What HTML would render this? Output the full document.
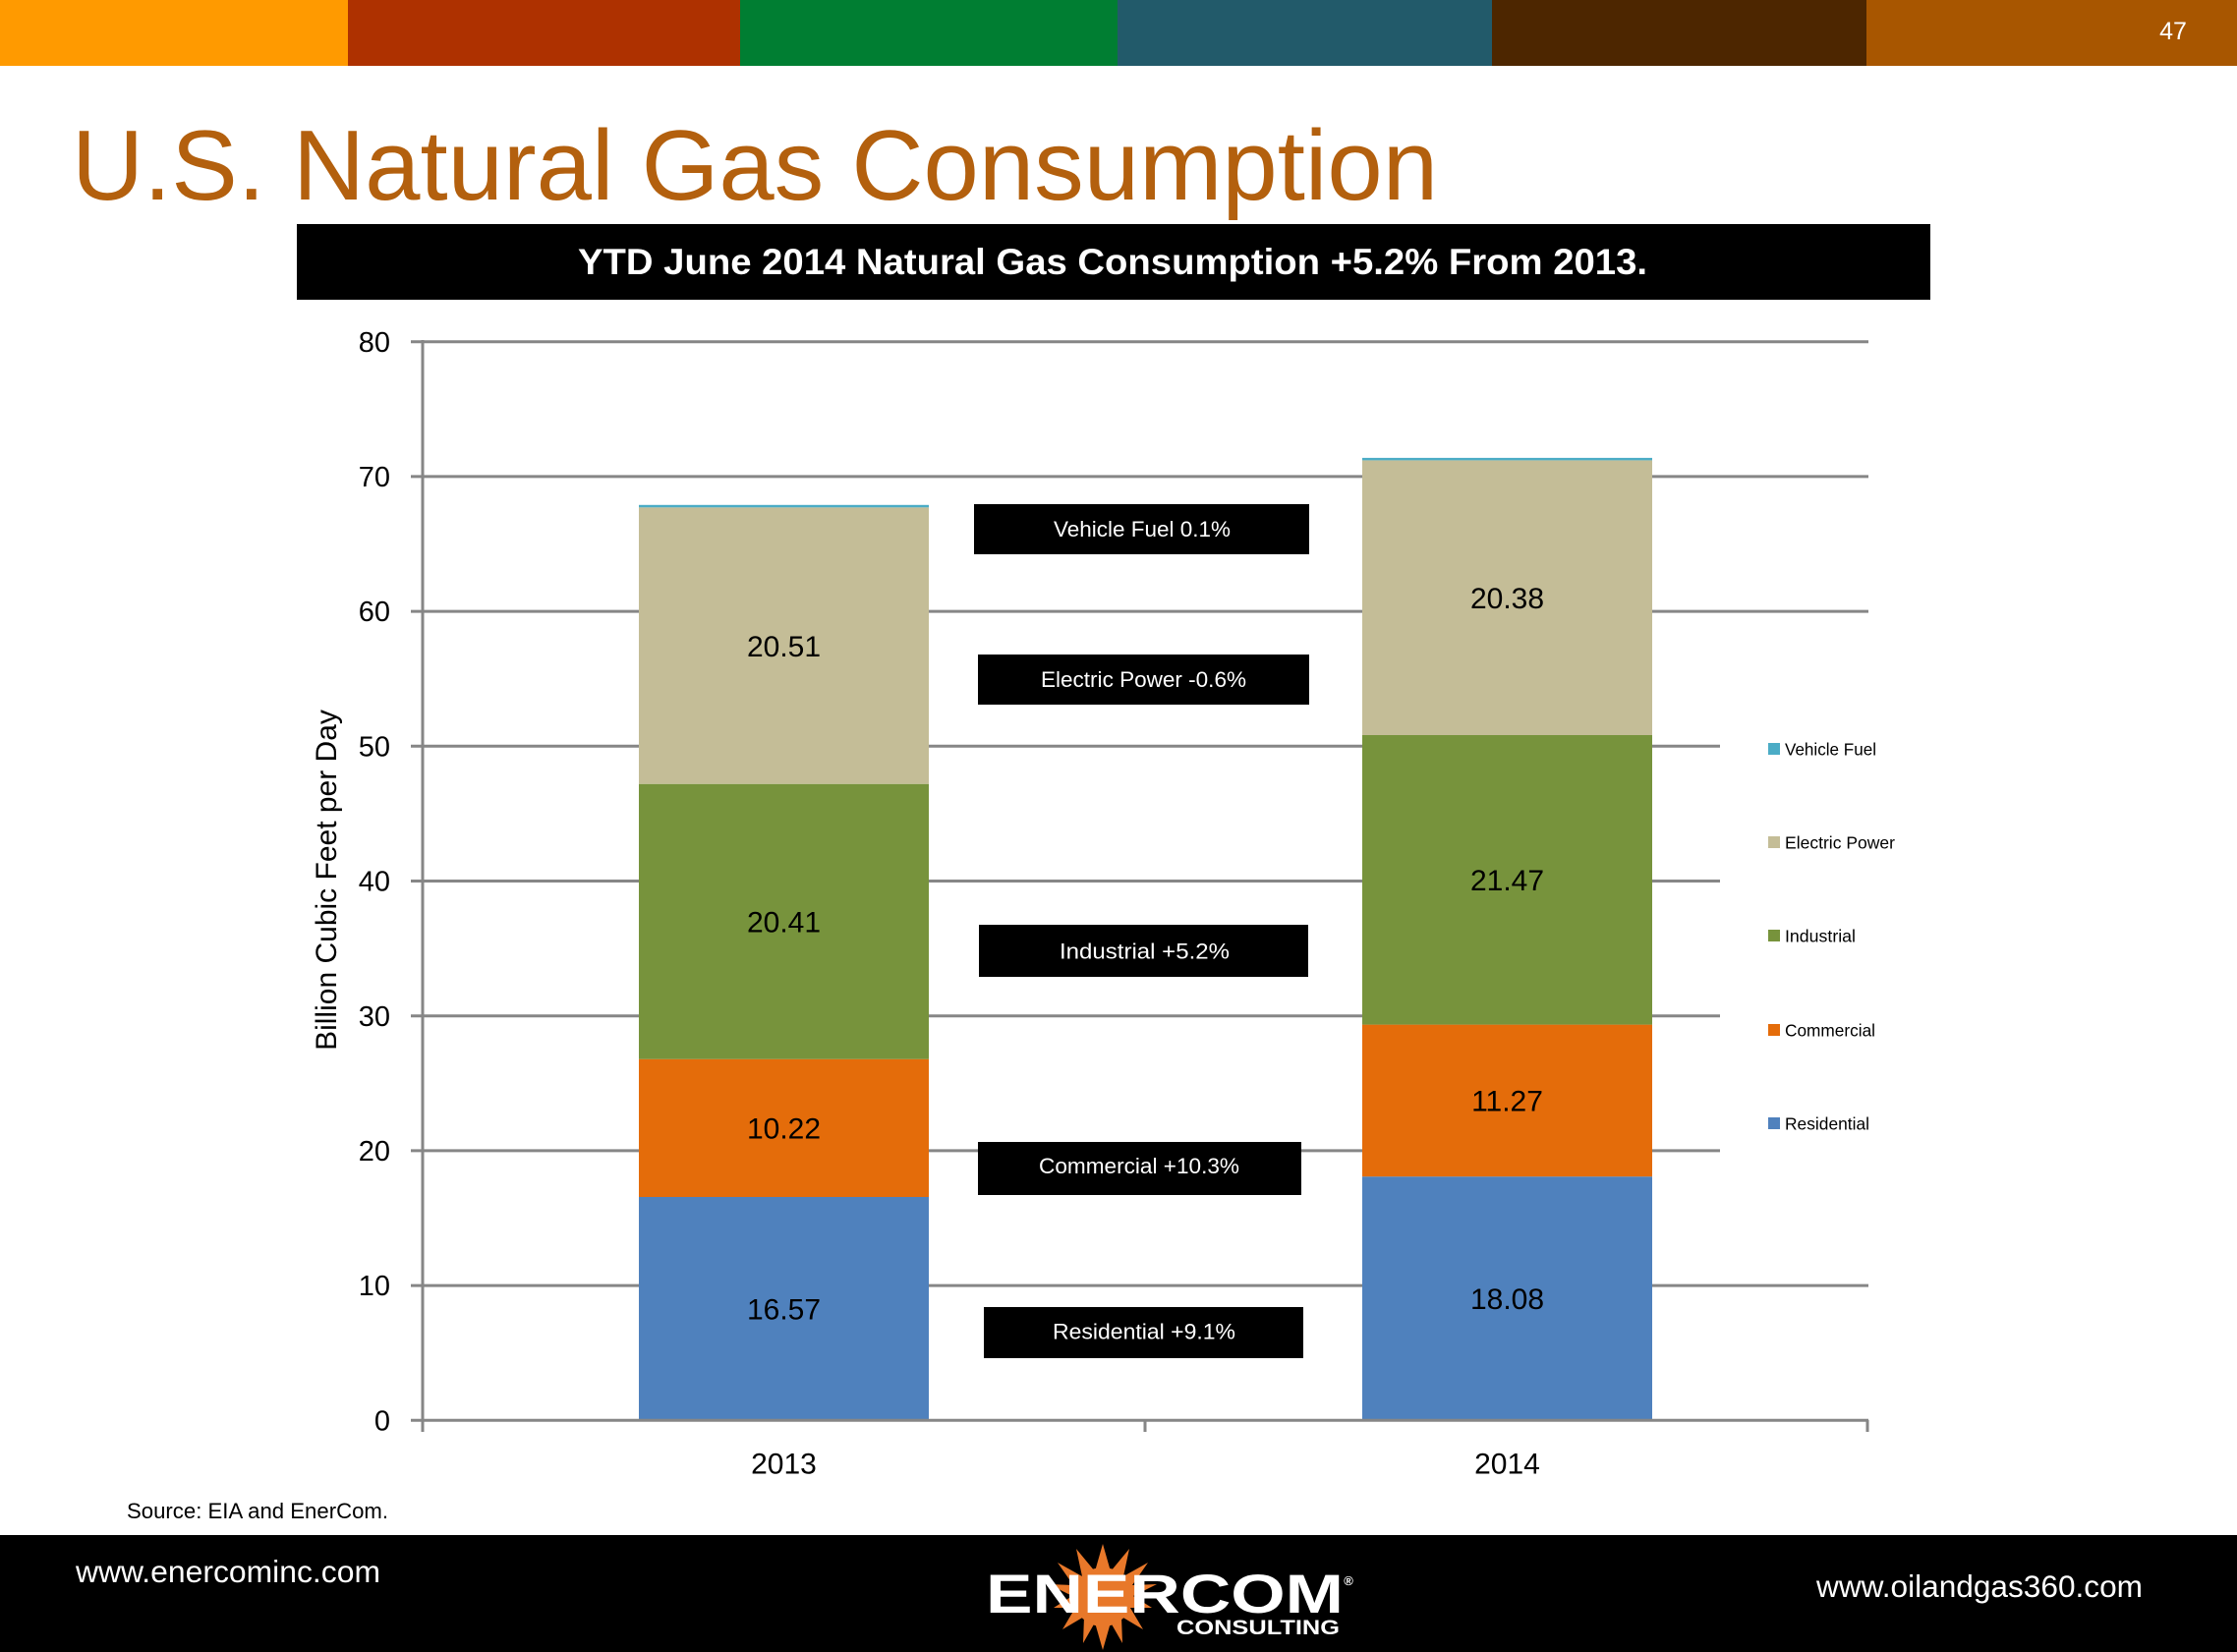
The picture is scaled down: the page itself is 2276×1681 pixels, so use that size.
<!DOCTYPE html>
<html>
<head>
<meta charset="utf-8">
<style>
  html,body{margin:0;padding:0;background:#fff;}
  svg{display:block;}
  text{font-family:"Liberation Sans", Arial, sans-serif;}
</style>
</head>
<body>
<svg width="2276" height="1681" viewBox="0 0 2276 1681" xmlns="http://www.w3.org/2000/svg">
  <rect x="0" y="0" width="2276" height="1681" fill="#ffffff"/>
  <!-- top color strip -->
  <rect x="0" y="0" width="354" height="67" fill="#FF9A00"/>
  <rect x="354" y="0" width="399" height="67" fill="#AE3100"/>
  <rect x="753" y="0" width="384" height="67" fill="#007E32"/>
  <rect x="1137" y="0" width="381" height="67" fill="#225A6A"/>
  <rect x="1518" y="0" width="381" height="67" fill="#4D2600"/>
  <rect x="1899" y="0" width="377" height="67" fill="#A85600"/>
  <text x="2211" y="40" font-size="25" fill="#ffffff" text-anchor="middle">47</text>

  <!-- title -->
  <text x="73" y="203" font-size="101" fill="#B3600E" textLength="1390" lengthAdjust="spacingAndGlyphs">U.S. Natural Gas Consumption</text>

  <!-- banner -->
  <rect x="302" y="228" width="1662" height="77" fill="#000000"/>
  <text x="588" y="279" font-size="37" font-weight="bold" fill="#ffffff" textLength="1088" lengthAdjust="spacingAndGlyphs">YTD June 2014 Natural Gas Consumption +5.2% From 2013.</text>

  <!-- gridlines -->
  <g stroke="#868686" stroke-width="3">
    <line x1="418" y1="347.7" x2="1901" y2="347.7"/>
    <line x1="418" y1="484.9" x2="1901" y2="484.9"/>
    <line x1="418" y1="622.1" x2="1901" y2="622.1"/>
    <line x1="418" y1="759.3" x2="1750" y2="759.3"/>
    <line x1="418" y1="896.5" x2="1750" y2="896.5"/>
    <line x1="418" y1="1033.7" x2="1750" y2="1033.7"/>
    <line x1="418" y1="1170.9" x2="1750" y2="1170.9"/>
    <line x1="418" y1="1308.1" x2="1901" y2="1308.1"/>
  </g>

  <!-- bars 2013 -->
  <rect x="650" y="1218" width="295" height="227.3" fill="#4F81BD"/>
  <rect x="650" y="1077.7" width="295" height="140.3" fill="#E46C0A"/>
  <rect x="650" y="797.7" width="295" height="280" fill="#77933C"/>
  <rect x="650" y="516.3" width="295" height="281.4" fill="#C4BD97"/>
  <rect x="650" y="513.8" width="295" height="2.5" fill="#4BACC6"/>
  <!-- bars 2014 -->
  <rect x="1386" y="1197.2" width="295" height="248.1" fill="#4F81BD"/>
  <rect x="1386" y="1042.6" width="295" height="154.6" fill="#E46C0A"/>
  <rect x="1386" y="748" width="295" height="294.6" fill="#77933C"/>
  <rect x="1386" y="468.4" width="295" height="279.6" fill="#C4BD97"/>
  <rect x="1386" y="465.9" width="295" height="2.5" fill="#4BACC6"/>

  <!-- axes -->
  <g stroke="#868686" stroke-width="3">
    <line x1="430" y1="346" x2="430" y2="1457"/>
    <line x1="418" y1="1445.3" x2="1901" y2="1445.3"/>
    <line x1="1165" y1="1445" x2="1165" y2="1457"/>
    <line x1="1900" y1="1445" x2="1900" y2="1457"/>
  </g>

  <!-- y tick labels -->
  <g font-size="29" fill="#000" text-anchor="end">
    <text x="397" y="358">80</text>
    <text x="397" y="495">70</text>
    <text x="397" y="632">60</text>
    <text x="397" y="769.5">50</text>
    <text x="397" y="906.5">40</text>
    <text x="397" y="1044">30</text>
    <text x="397" y="1181">20</text>
    <text x="397" y="1318">10</text>
    <text x="397" y="1455.5">0</text>
  </g>

  <!-- y axis title -->
  <text x="0" y="0" font-size="30" fill="#000" text-anchor="middle" transform="translate(342,895.5) rotate(-90)">Billion Cubic Feet per Day</text>

  <!-- category labels -->
  <text x="797.5" y="1499.5" font-size="30" fill="#000" text-anchor="middle">2013</text>
  <text x="1533.5" y="1499.5" font-size="30" fill="#000" text-anchor="middle">2014</text>

  <!-- data labels -->
  <g font-size="30" fill="#000" text-anchor="middle">
    <text x="797.5" y="1342.5">16.57</text>
    <text x="797.5" y="1158.5">10.22</text>
    <text x="797.5" y="948.5">20.41</text>
    <text x="797.5" y="668">20.51</text>
    <text x="1533.5" y="1332">18.08</text>
    <text x="1533.5" y="1130.5">11.27</text>
    <text x="1533.5" y="906">21.47</text>
    <text x="1533.5" y="619">20.38</text>
  </g>

  <!-- change boxes -->
  <rect x="991" y="513" width="341" height="51" fill="#000"/>
  <text x="1072" y="546" font-size="22.5" fill="#fff" textLength="180" lengthAdjust="spacingAndGlyphs">Vehicle Fuel 0.1%</text>
  <rect x="995" y="666" width="337" height="51" fill="#000"/>
  <text x="1059" y="699" font-size="22.5" fill="#fff" textLength="209" lengthAdjust="spacingAndGlyphs">Electric Power -0.6%</text>
  <rect x="996" y="941" width="335" height="53" fill="#000"/>
  <text x="1078" y="975.5" font-size="22.5" fill="#fff" textLength="173" lengthAdjust="spacingAndGlyphs">Industrial  +5.2%</text>
  <rect x="995" y="1162" width="329" height="54" fill="#000"/>
  <text x="1057" y="1194" font-size="22.5" fill="#fff" textLength="204" lengthAdjust="spacingAndGlyphs">Commercial +10.3%</text>
  <rect x="1001" y="1330" width="325" height="52" fill="#000"/>
  <text x="1071" y="1362.5" font-size="22.5" fill="#fff" textLength="186" lengthAdjust="spacingAndGlyphs">Residential  +9.1%</text>

  <!-- legend -->
  <rect x="1799" y="756" width="12" height="12" fill="#4BACC6"/>
  <text x="1816" y="768.5" font-size="17.5" fill="#000" textLength="93" lengthAdjust="spacingAndGlyphs">Vehicle Fuel</text>
  <rect x="1799" y="851" width="12" height="12" fill="#C4BD97"/>
  <text x="1816" y="863.5" font-size="17.5" fill="#000" textLength="112" lengthAdjust="spacingAndGlyphs">Electric Power</text>
  <rect x="1799" y="946" width="12" height="12" fill="#77933C"/>
  <text x="1816" y="958.5" font-size="17.5" fill="#000" textLength="72" lengthAdjust="spacingAndGlyphs">Industrial</text>
  <rect x="1799" y="1042" width="12" height="12" fill="#E46C0A"/>
  <text x="1816" y="1054.5" font-size="17.5" fill="#000" textLength="92" lengthAdjust="spacingAndGlyphs">Commercial</text>
  <rect x="1799" y="1137" width="12" height="12" fill="#4F81BD"/>
  <text x="1816" y="1149.5" font-size="17.5" fill="#000" textLength="86" lengthAdjust="spacingAndGlyphs">Residential</text>

  <!-- source -->
  <text x="129" y="1545" font-size="22" fill="#000" textLength="266" lengthAdjust="spacingAndGlyphs">Source: EIA and EnerCom.</text>

  <!-- footer -->
  <rect x="0" y="1562" width="2276" height="119" fill="#000"/>
  <text x="77" y="1610" font-size="31.5" fill="#fff" textLength="310" lengthAdjust="spacingAndGlyphs">www.enercominc.com</text>
  <text x="1848" y="1625" font-size="31.5" fill="#fff" textLength="332" lengthAdjust="spacingAndGlyphs">www.oilandgas360.com</text>

  <!-- logo sunburst -->
  <polygon fill="#E8782A" points="1122,1571 1130,1599 1149,1576 1143,1604 1168,1590 1152,1613 1177,1612 1153,1624 1172,1636 1150,1636 1163,1658 1141,1645 1142,1672 1130,1651 1122,1679 1114,1651 1102,1672 1103,1645 1081,1658 1094,1636 1072,1636 1091,1624 1067,1612 1092,1613 1076,1590 1101,1604 1095,1576 1114,1599"/>
  <circle cx="1122" cy="1625" r="30" fill="#E8782A"/>
  <text x="1003" y="1641" font-size="56" font-weight="bold" fill="#fff" textLength="364" lengthAdjust="spacingAndGlyphs">ENERCOM</text>
  <text x="1372" y="1613" font-size="13" font-weight="bold" fill="#fff" text-anchor="middle">®</text>
  <text x="1197" y="1663" font-size="21" font-weight="bold" fill="#fff" textLength="166" lengthAdjust="spacingAndGlyphs">CONSULTING</text>
</svg>
</body>
</html>
